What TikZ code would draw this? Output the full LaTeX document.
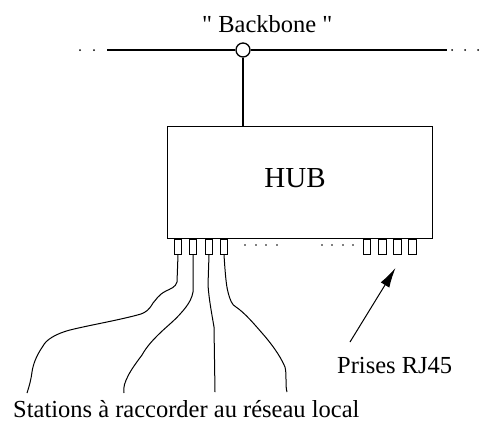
\documentclass[tikz,border=0pt]{standalone}
\usepackage{fontspec}
\setmainfont{Liberation Serif}
\newfontfamily\plainq{Liberation Serif}[Ligatures=TeXOff]
\usetikzlibrary{arrows.meta}
\begin{document}
\begin{tikzpicture}[x=1pt,y=-1pt,
  lbl/.style={inner sep=0pt,anchor=base west,font=\fontsize{24.5}{29}\selectfont},
  port/.style={draw,line width=0.9pt,minimum width=7.5pt,minimum height=15pt,inner sep=0pt,anchor=north},
  cable/.style={line width=1pt},
  thick2/.style={line width=2pt},
  dot/.style={fill,circle,inner sep=0pt,minimum size=2pt}]
\useasboundingbox (0,0) rectangle (495,429);
% backbone
\node[lbl,font=\fontsize{24.5}{29}\plainq] (bb) at (202,32) {" Backbone "};
\coordinate (bl) at (107,50);
\coordinate (br) at (447,50);
\node[draw,circle,line width=1.3pt,minimum size=14pt,inner sep=0pt,fill=white] (tap) at (243,50) {};
\draw[thick2] (bl) -- (tap.west);
\draw[thick2] (tap.east) -- (br);
\foreach \x in {80,94,452,465,478} \node[dot] at (\x,50) {};
% hub
\node[draw,line width=1.1pt,minimum width=265pt,minimum height=112pt,inner sep=0pt,anchor=north west] (hub) at (167,126) {};
\node[inner sep=0pt,anchor=base,font=\fontsize{29}{34}\selectfont] (hubl) at (295,187) {HUB};
\draw[thick2] (tap.south) -- (hub.north -| tap);
% ports
\foreach \i/\x in {1/178,2/193,3/209,4/224,5/367,6/382.5,7/397.5,8/412.5}
  \node[port] (p\i) at (\x,239) {};
\foreach \x in {245,256,266,277,322,332,343,353} \node[dot,minimum size=1.6pt] at (\x,245) {};
% cables
\coordinate (e1) at (27,393);
\coordinate (e2) at (124,393);
\coordinate (e3) at (215,392);
\coordinate (e4) at (287,392);
\draw[cable] (p1.south) -- (177,282) .. controls (176,287) and (170,289) .. (166,291)
  .. controls (158,295) and (156,300) .. (153,303)
  .. controls (149,310) and (146,312) .. (141,314)
  .. controls (120,320) and (90,325) .. (70,330)
  .. controls (55,334) and (46,340) .. (43,346)
  .. controls (36,356) and (33,365) .. (32,372)
  .. controls (31,380) and (29,387) .. (e1);
\draw[cable] (p2.south) -- (193,292) .. controls (192,298) and (189,303) .. (186,307)
  .. controls (176,320) and (168,325) .. (158,335)
  .. controls (150,343) and (146,348) .. (142,355)
  .. controls (136,363) and (131,370) .. (128,376)
  .. controls (125,382) and (123,387) .. (e2);
\draw[cable] (p3.south) -- (208,285) .. controls (209,300) and (212,315) .. (214,327) -- (e3);
\draw[cable] (p4.south) .. controls (225,270) and (226,285) .. (228,292)
  .. controls (230,300) and (232,305) .. (236,307)
  .. controls (245,313) and (255,325) .. (262,333)
  .. controls (270,342) and (280,355) .. (285,367)
  .. controls (287,375) and (285,385) .. (e4);
% label and arrow
\node[lbl] (rj) at (337,373) {Prises RJ45};
\coordinate (as) at (350,342);
\draw[line width=1pt,-{Latex[length=20pt,width=10pt]}] (as) -- ([yshift=-13pt,xshift=-2pt]p7.south);
\node[lbl] (st) at (13,417) {Stations à raccorder au réseau local};
\end{tikzpicture}
\end{document}
